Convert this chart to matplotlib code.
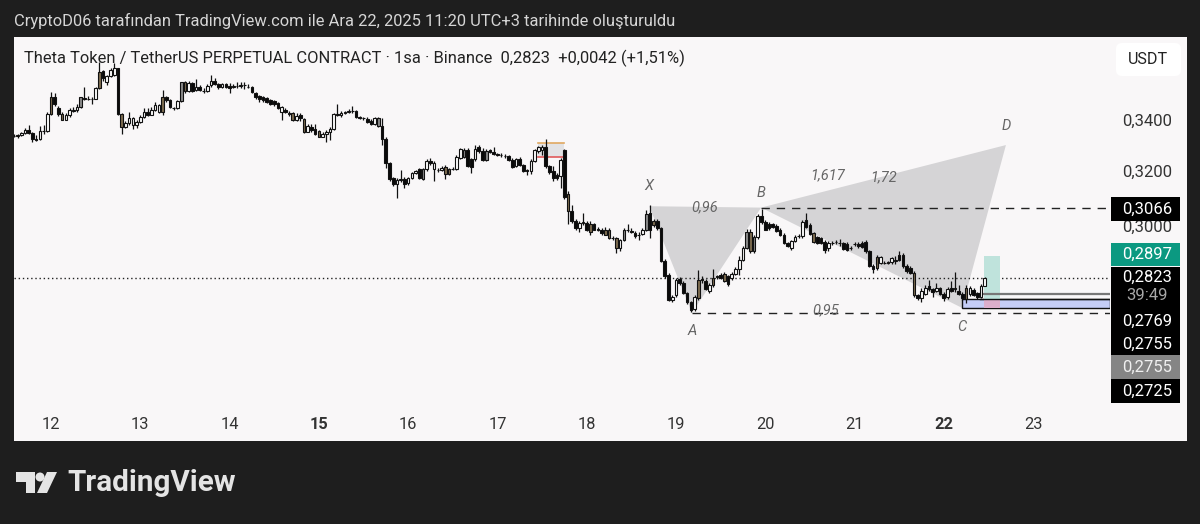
import numpy as np
import matplotlib
matplotlib.use("Agg")
import matplotlib.pyplot as plt
from matplotlib.patches import Rectangle, Polygon, Circle, FancyBboxPatch
from matplotlib.ticker import NullLocator

plt.rcParams['font.family'] = ['Roboto', 'DejaVu Sans']

# hourly candles, prices in 1/10000
opens = [3335,3337,3338,3348,3358,3346,3322,3322,3355,3356,
3423,3492,3448,3423,3400,3420,3436,3440,3450,3488,
3484,3484,3484,3530,3600,3555,3580,3585,3612,3423,
3370,3385,3378,3380,3392,3412,3432,3420,3440,3432,
3432,3490,3478,3445,3445,3475,3553,3515,3550,3520,
3535,3518,3518,3540,3560,3545,3535,3545,3538,3535,
3538,3539,3540,3535,3533,3510,3497,3490,3487,3478,
3475,3468,
3430,3438,3425,3427,3398,3420,3401,3352,3372,3362,
3355,3332,3345,3352,3364,3422,3420,3427,3430,3434,
3434,3410,3408,3404,3396,3381,3376,3375,3322,3230,
3175,3152,3167,3172,3155,3175,3195,3208,3172,3208,
3240,3208,3205,3205,3217,3208,3208,3209,3250,3282,
3281,3247,3246,3292,3278,3276,3280,3272,3264,3262,
3258,3257,3244,3220,3248,3222,3206,3200,3240,3276,
3280,3292,3218,3202,3187,3183,3280,
3117,3054,3019,2992,3012,3011,3007,3007,2990,2986,
2988,2988,2958,2958,2924,2952,2988,2982,2976,2970,
2972,2986,3046,3019,3019,2992,2879,2831,2749,2765,
2820,2807,2773,2743,2722,2756,2820,2812,2780,2799,
2828,2834,2836,2828,2822,2836,2854,2884,2925,2980,
2912,2961,3035,3015,3009,3007,3000,2986,2970,2940,
2925,2947,2964,2966,3021,3003,2975,2961,2958,2946,
2924,2941,2944,2941,2941,2938,2925,2938,2938,2941,
2944,2913,2862,2893,2873,2874,2875,2876,2880,2901,
2901,2862,2857,2840,2767,2756,2770,2797,2786,2781,
2788,2770,2760,2791,2786,2781,2770,2791,2770,2784,
2772,2761,2797]
closes = [3337,3340,3348,3358,3346,3322,3321,3355,3356,3423,
3490,3462,3423,3400,3420,3438,3440,3450,3490,3484,
3484,3482,3530,3596,3570,3580,3605,3612,3423,3370,
3385,3405,3405,3392,3412,3432,3420,3440,3458,3458,
3490,3478,3450,3445,3475,3553,3515,3550,3518,3535,
3520,3518,3536,3560,3545,3535,3545,3535,3530,3536,
3539,3540,3540,3535,3512,3490,3483,3480,3473,3465,
3462,3445,
3450,3432,3424,3398,3415,3405,3352,3376,3358,3342,
3332,3345,3352,3364,3422,3420,3427,3430,3434,3435,
3410,3408,3405,3392,3382,3405,3406,3322,3230,3172,
3152,3167,3170,3152,3175,3192,3200,3175,3208,3238,
3230,3230,3204,3213,3188,3188,3209,3255,3284,3254,
3220,3216,3285,3276,3242,3243,3274,3266,3263,3260,
3257,3242,3217,3246,3222,3202,3200,3240,3282,3292,
3292,3218,3196,3174,3174,3243,3105,
3054,3019,2992,3011,3015,2986,2980,2988,2988,2975,
2970,2958,2960,2924,2950,2988,2986,2981,2964,2968,
2986,3044,2986,3004,2992,2879,2829,2752,2761,2816,
2805,2773,2743,2717,2759,2816,2816,2786,2798,2824,
2827,2822,2811,2804,2836,2854,2884,2925,2980,2912,
2963,3035,3015,2988,2992,2998,2984,2970,2940,2930,
2947,2963,2966,3015,2998,2972,2946,2941,2941,2918,
2941,2940,2943,2940,2920,2918,2923,2936,2929,2928,
2913,2862,2851,2855,2893,2873,2874,2890,2884,2884,
2862,2846,2840,2765,2756,2781,2791,2786,2775,2791,
2770,2756,2786,2781,2788,2770,2756,2754,2788,2767,
2759,2797,2823]
highs = [3342,3345,3352,3368,3380,3350,3338,3376,3380,3432,
3512,3510,3455,3430,3428,3445,3450,3462,3492,3535,
3495,3490,3534,3640,3605,3585,3615,3635,3615,3425,
3395,3430,3410,3398,3420,3445,3445,3450,3470,3465,
3520,3495,3482,3450,3480,3556,3558,3560,3555,3565,
3540,3530,3545,3585,3570,3550,3550,3550,3548,3545,
3552,3555,3552,3545,3536,3514,3502,3494,3492,3482,
3480,3472,
3455,3445,3434,3432,3425,3428,3408,3382,3382,3382,
3360,3350,3358,3372,3428,3462,3435,3436,3442,3455,
3438,3415,3412,3410,3402,3410,3412,3408,3330,3236,
3180,3175,3205,3178,3180,3198,3206,3212,3212,3248,
3252,3238,3212,3220,3224,3214,3215,3262,3288,3288,
3288,3252,3302,3302,3290,3285,3285,3292,3270,3268,
3265,3262,3250,3252,3254,3228,3210,3245,3285,3298,
3300,3322,3225,3218,3195,3250,3285,
3125,3075,3025,3018,3045,3018,3018,3012,2998,2992,
2996,2992,2965,2962,2956,2992,3007,2995,2982,2978,
2995,3058,3075,3024,3024,2998,2886,2838,2768,2822,
2826,2812,2778,2748,2765,2848,2830,2818,2806,2852,
2834,2840,2844,2834,2842,2858,2898,2930,2990,2990,
2970,3042,3060,3020,3015,3012,3006,2992,2976,2944,
2952,2970,2972,3020,3045,3010,2980,2966,2962,2950,
2948,2948,2950,2955,2946,2944,2930,2944,2944,2948,
2950,2918,2868,2900,2898,2880,2880,2892,2895,2912,
2906,2868,2862,2845,2770,2788,2800,2815,2790,2805,
2793,2775,2792,2812,2844,2800,2775,2798,2796,2790,
2776,2802,2826]
lows = [3331,3328,3335,3345,3342,3312,3315,3320,3345,3352,
3420,3455,3415,3398,3397,3412,3430,3430,3447,3480,
3478,3462,3482,3526,3560,3540,3575,3580,3420,3345,
3368,3380,3362,3365,3388,3405,3415,3417,3435,3425,
3420,3472,3445,3440,3443,3470,3510,3512,3512,3515,
3515,3510,3512,3535,3540,3525,3530,3530,3510,3528,
3530,3530,3525,3530,3508,3482,3470,3470,3466,3460,
3455,3442,
3398,3428,3415,3395,3395,3395,3348,3350,3352,3338,
3330,3330,3312,3318,3360,3415,3412,3422,3425,3428,
3408,3402,3400,3386,3378,3378,3372,3302,3212,3165,
3145,3100,3160,3138,3150,3170,3190,3170,3168,3200,
3225,3165,3198,3200,3172,3184,3205,3203,3248,3250,
3215,3192,3240,3270,3238,3240,3268,3260,3258,3255,
3250,3238,3212,3215,3218,3198,3185,3190,3235,3270,
3260,3212,3190,3165,3168,3138,3098,
3008,3012,2985,2980,3005,2982,2970,2985,2982,2970,
2968,2955,2952,2905,2915,2948,2978,2976,2958,2952,
2968,2982,2958,2998,2985,2875,2822,2748,2744,2760,
2800,2770,2738,2713,2716,2750,2806,2782,2772,2794,
2820,2818,2808,2796,2815,2832,2834,2880,2920,2908,
2908,2956,3008,2985,2988,2992,2978,2966,2936,2926,
2918,2944,2960,2960,2992,2968,2940,2936,2936,2905,
2915,2934,2938,2932,2916,2914,2918,2932,2925,2924,
2908,2858,2838,2848,2868,2868,2868,2868,2870,2880,
2856,2840,2836,2760,2752,2745,2765,2780,2760,2778,
2765,2748,2755,2775,2778,2765,2752,2740,2762,2762,
2755,2758,2795]
olive_bars = [10,13,23,29,40,46,75,78,82,116,117,149,155,159,160,162,172,184,188,191,198,215,232,242,256]
grey_bars = [18,45,98,110,121,127,164,170,197,199]
first_hour = -10

# harmonic pattern (hour since the 12th, price)
xabcd_hours = [160.8, 172.3, 190.9, 244.9, 256.7]
xabcd_prices = [0.3071, 0.2709, 0.3066, 0.2725, 0.3300]
pattern_letters = ['X', 'A', 'B', 'C', 'D']
letter_prices = [0.3145, 0.2651, 0.3120, 0.2664, 0.3375]

last_price = 0.2823
level_top = 0.3066
level_bottom = 0.2710
zone_low, zone_mid, zone_high = 0.2725, 0.2755, 0.2769
target = 0.2897
box_low, box_high = 0.3254, 0.3308

price_ticks = [0.30, 0.32, 0.34]
day_ticks = ['12', '13', '14', '15', '16', '17', '18', '19', '20', '21', '22', '23']
bold_days = ['15', '22']

side_labels = [('0,3066', '#000000', 197, 221, 'white'),
               ('0,2897', '#0b9981', 243, 266, 'white'),
               ('0,2769', '#000000', 309, 333, 'white'),
               ('0,2755', '#000000', 333, 355, 'white'),
               ('0,2755', '#858585', 355, 379, '#f0f0f0'),
               ('0,2725', '#000000', 379, 403, 'white')]

W, H = 1200, 524
fig = plt.figure(figsize=(12, 5.24), dpi=100, facecolor='#1e1e1e')

# background layer, pixel coordinates
bg = fig.add_axes([0, 0, 1, 1], zorder=0)
bg.set_xlim(0, W); bg.set_ylim(H, 0); bg.axis('off')
bg.add_patch(Rectangle((14, 37), 1173, 404, fc='#f9f7f8', ec='none'))
bg.text(14, 21, 'CryptoD06 tarafından TradingView.com ile Ara 22, 2025 11:20 UTC+3 tarihinde oluşturuldu',
        color='#d6d6d6', fontsize=11.85, va='center')

# chart
ax = fig.add_axes([14/W, 1-405/H, (1110-14)/W, (405-37)/H], zorder=1)
ax.patch.set_alpha(0)
ax.set_yscale('log')
ax.set_ylim(0.2431, 0.3747)
hour_px = 3.72
ax.set_xlim((14-51)/hour_px, (1110-51)/hour_px)
for s in ax.spines.values():
    s.set_visible(False)

o = np.array(opens)/10000
c = np.array(closes)/10000
h = np.array(highs)/10000
l = np.array(lows)/10000
x = np.arange(len(o)) + first_hour

xp, yp = xabcd_hours, xabcd_prices
ax.add_patch(Polygon(list(zip(xp[:3], yp[:3])), fc='#d5d4d6', ec='none', zorder=1))
ax.add_patch(Polygon(list(zip(xp[2:], yp[2:])), fc='#d5d4d6', ec='none', zorder=1))

right = (1110-51)/hour_px
ax.plot([xp[2], right], [level_top]*2, color='#222222', lw=1, dashes=(6, 5), zorder=2)
ax.plot([xp[1], right], [level_bottom]*2, color='#222222', lw=1, dashes=(6, 5), zorder=2)
ax.axhline(last_price, color='#222222', lw=1.0, ls=(0, (1, 2)), zorder=2)

# zones
ax.add_patch(Rectangle((xp[3], zone_low), right-xp[3], zone_mid-zone_low, fc='#c5cdf6', ec='#111111', lw=1, zorder=3))
tp_l, tp_r = (984-51)/hour_px, (1000-51)/hour_px
ax.add_patch(Rectangle((tp_l, zone_mid), tp_r-tp_l, target-zone_mid, fc='#bfe3dc', ec='none', zorder=3))
ax.add_patch(Rectangle((tp_l, zone_low), tp_r-tp_l, zone_mid-zone_low, fc='#dcaecb', ec='none', zorder=3))
ax.plot([tp_l-1, right], [zone_high]*2, color='#777777', lw=1.6, zorder=3)
ax.plot([tp_l-1, right], [zone_mid]*2, color='#111111', lw=1.0, zorder=3)

# small box near the 17th
bx_l, bx_r = (538-51)/hour_px, (564-51)/hour_px
ax.add_patch(Rectangle((bx_l, box_low), bx_r-bx_l, box_high-box_low, fc='#e2e2e4', ec='none', zorder=2))
ax.plot([bx_l, bx_r], [box_high]*2, color='#e0a860', lw=1.2, zorder=2)
ax.plot([bx_l, bx_r], [box_low]*2, color='#e05a5a', lw=1.2, zorder=2)

# candles
ax.vlines(x, l, h, color='#111111', lw=0.9, zorder=4)
face = np.where(c >= o, 'white', '#0a0a0a').astype(object)
face[olive_bars] = '#7d6c50'
face[grey_bars] = '#8b8b8b'
ax.bar(x, np.abs(c-o), bottom=np.minimum(o, c), width=0.7, color=list(face),
       edgecolor='#111111', linewidth=0.8, zorder=5)

# pattern annotations
note = dict(color='#666666', fontsize=10.5, style='italic', ha='center', va='center', zorder=6)
for lx, ly, name in zip(xp, letter_prices, pattern_letters):
    ax.text(lx, ly, name, **note)
ax.text((705-51)/hour_px, 0.3066, '0,96', **note)
ax.text((828-51)/hour_px, 0.3186, '1,617', **note)
ax.text((884-51)/hour_px, 0.3176, '1,72', **note)
ax.text((826-51)/hour_px, 0.2718, '0,95', **note)

# axes
ax.yaxis.tick_right()
ax.yaxis.set_minor_locator(NullLocator())
ax.set_yticks(price_ticks, [f'{p:.4f}'.replace('.', ',') for p in price_ticks])
ax.tick_params(axis='y', length=0, pad=9, labelsize=12, labelcolor='#333333')
ax.set_xticks(np.arange(len(day_ticks))*24, day_ticks)
ax.tick_params(axis='x', length=0, pad=8.5, labelsize=11.8, labelcolor='#333333')
for t in ax.get_xticklabels():
    if t.get_text() in bold_days:
        t.set_fontweight('bold')

# labels on top, pixel coordinates
top = fig.add_axes([0, 0, 1, 1], zorder=2)
top.set_xlim(0, W); top.set_ylim(H, 0); top.axis('off')
top.text(24, 58, 'Theta Token / TetherUS PERPETUAL CONTRACT · 1sa · Binance  0,2823  +0,0042 (+1,51%)',
         color='#222222', fontsize=11.87, va='center')
for txt, col, y0, y1, tc in side_labels:
    top.add_patch(Rectangle((1111, y0), 69, y1-y0, fc=col, ec='none'))
    top.text(1147, (y0+y1)/2, txt, color=tc, fontsize=12, ha='center', va='center')
top.add_patch(Rectangle((1111, 267), 69, 42, fc='#000000', ec='none'))
top.text(1147, 277, '0,2823', color='white', fontsize=12, ha='center', va='center')
top.text(1147, 296, '39:49', color='#a8a8a8', fontsize=12, ha='center', va='center')
top.add_patch(FancyBboxPatch((1120, 47), 57, 25, boxstyle='round,pad=4,rounding_size=6',
                             fc='white', ec='none'))
top.text(1148, 60, 'USDT', color='#222222', fontsize=11.6, ha='center', va='center')

# footer logo
top.add_patch(Polygon([(16, 472), (35, 472), (35, 493), (26, 493), (26, 482), (16, 482)], fc='#e4e4e4', ec='none'))
top.add_patch(Circle((40, 477), 4.5, fc='#e4e4e4', ec='none'))
top.add_patch(Polygon([(47, 472), (57, 472), (47, 493), (37, 493)], fc='#e4e4e4', ec='none'))
top.text(67, 483, 'TradingView', color='#e4e4e4', fontsize=21.3, fontweight='bold', va='center')

fig.savefig('out.png', dpi=100, facecolor=fig.get_facecolor())
